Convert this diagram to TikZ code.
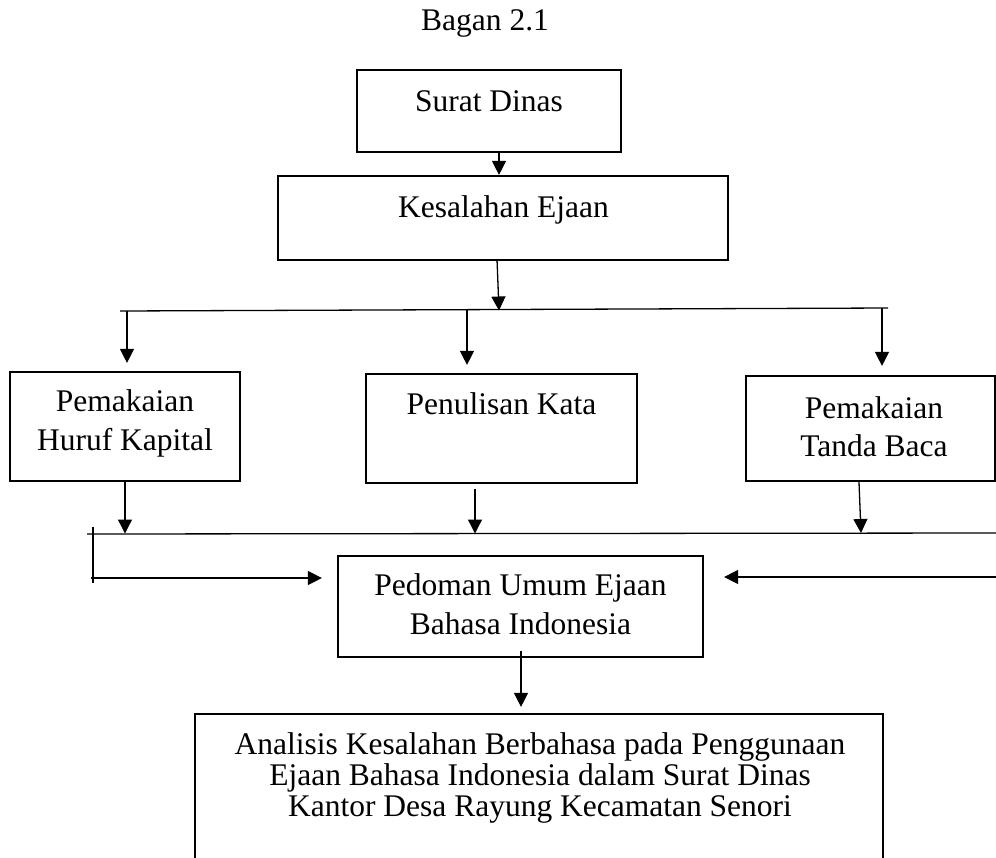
\documentclass[tikz,border=0pt]{standalone}
\usepackage{fontspec}
\setmainfont{Liberation Serif}
\usetikzlibrary{arrows.meta}
\begin{document}
\begin{tikzpicture}[x=1pt,y=-1pt,
  box/.style={draw,line width=2.2pt,inner sep=0pt,rectangle},
  txt/.style={inner sep=0pt,align=center,font=\fontsize{31.5}{39}\selectfont},
  arr/.style={line width=1.3pt,-{Triangle[length=14pt,width=14pt]}},
  ln/.style={line width=1.3pt}]
\clip (0,0) rectangle (996,857);
\useasboundingbox (0,0) rectangle (996,857);
\fill[white] (0,0) rectangle (996,857);
% title
\node[txt,anchor=base] (title) at (485,30) {Bagan 2.1};
% boxes
\node[box,minimum width=264pt,minimum height=82pt] (sd) at (489,111) {};
\node[box,minimum width=450pt,minimum height=84pt] (ke) at (503,218) {};
\node[box,minimum width=230pt,minimum height=109pt] (b1) at (125,426.5) {};
\node[box,minimum width=271pt,minimum height=109pt] (b2) at (501.5,428.5) {};
\node[box,minimum width=249pt,minimum height=105pt] (b3) at (870.5,428.5) {};
\node[box,minimum width=365pt,minimum height=101pt] (pd) at (520.5,606.5) {};
\node[box,minimum width=688pt,minimum height=200pt] (fn) at (539,814) {};
% texts
\node[txt,anchor=base] (tsd) at (489,111) {Surat Dinas};
\node[txt,anchor=base] (tke) at (503.5,217) {Kesalahan Ejaan};
\node[txt,anchor=base] (tb1a) at (125,411) {Pemakaian};
\node[txt,anchor=base] (tb1b) at (125,450) {Huruf Kapital};
\node[txt,anchor=base] (tb2) at (501.5,414) {Penulisan Kata};
\node[txt,anchor=base] (tb3a) at (874,418) {Pemakaian};
\node[txt,anchor=base] (tb3b) at (874,456) {Tanda Baca};
\node[txt,anchor=base] (tpda) at (520.5,595) {Pedoman Umum Ejaan};
\node[txt,anchor=base] (tpdb) at (520.5,634) {Bahasa Indonesia};
\node[txt,anchor=base] (tfa) at (540,754) {Analisis Kesalahan Berbahasa pada Penggunaan};
\node[txt,anchor=base] (tfb) at (540,785) {Ejaan Bahasa Indonesia dalam Surat Dinas};
\node[txt,anchor=base] (tfc) at (540,816) {Kantor Desa Rayung Kecamatan Senori};
% bus coordinates
\coordinate (bus1l) at (120,311);
\coordinate (bus1r) at (888,308);
\coordinate (bus1m) at (499,310.5);
\coordinate (bus2l) at (87,534);
\coordinate (bus2r) at (996,533);
\coordinate (v1t) at (93,527);
\coordinate (v1b) at (93,583);
\coordinate (la) at (91,578);
\coordinate (ra) at (996,577);
% connectors
\draw[arr] (sd.south -| 499,0) -- (ke.north -| 499,0);
\draw[arr] ([yshift=2pt]ke.south -| 497,0) -- (bus1m);
\draw[ln] (bus1l) -- (bus1r);
\draw[arr] (127,310.5) -- ([yshift=8pt]b1.north -| 127,0);
\draw[arr] (467,310) -- ([yshift=8pt]b2.north -| 467,0);
\draw[arr] (882,308) -- ([yshift=9pt]b3.north -| 882,0);
\draw[arr] (b1.south -| 125,0) -- (125,533.5);
\draw[arr] ([yshift=-5pt]b2.south -| 475,0) -- (475,533.5);
\draw[arr] (b3.south -| 859,0) -- (861,533);
\draw[ln] (bus2l) -- (bus2r);
\draw[ln] (v1t) -- (v1b);
\draw[arr] (la) -- ([xshift=-15pt]pd.west |- la);
\draw[arr] (ra) -- ([xshift=20pt]pd.east |- ra);
\draw[arr] ([yshift=7pt]pd.south -| 521,0) -- ([yshift=6pt]fn.north -| 521,0);
\end{tikzpicture}
\end{document}
